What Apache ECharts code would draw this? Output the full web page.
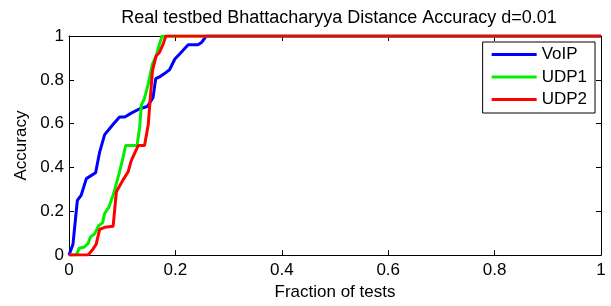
<!DOCTYPE html>
<html><head><meta charset="utf-8">
<script src="https://cdn.jsdelivr.net/npm/echarts@6/dist/echarts.min.js"></script>
<style>html,body{margin:0;padding:0;background:#fff}#c{width:611px;height:306px}</style>
</head><body><div id="c"></div>
<script>
const seriesNames = ['VoIP', 'UDP1', 'UDP2'];
const seriesColors = ['#0000ff', '#00ee00', '#ff0000'];
const xTicks = [0, 0.2, 0.4, 0.6, 0.8, 1];
const yTicks = [0, 0.2, 0.4, 0.6, 0.8, 1];

const voipX = [0, 0.0075, 0.0157, 0.023, 0.0326, 0.050, 0.0576, 0.067, 0.0827, 0.095, 0.105, 0.117, 0.133, 0.147, 0.152, 0.158, 0.163, 0.170, 0.183, 0.189, 0.199, 0.208, 0.224, 0.2425, 0.249, 0.258, 1];
const voipY = [0, 0.05, 0.25, 0.274, 0.349, 0.376, 0.47, 0.55, 0.596, 0.63, 0.63, 0.648, 0.668, 0.678, 0.696, 0.72, 0.805, 0.813, 0.835, 0.846, 0.895, 0.918, 0.96, 0.96, 0.97, 1, 1];

const udp1X = [0, 0.0138, 0.019, 0.029, 0.0357, 0.040, 0.048, 0.056, 0.063, 0.067, 0.075, 0.083, 0.094, 0.101, 0.1065, 0.128, 0.133, 0.136, 0.142, 0.149, 0.157, 0.164, 0.170, 0.175, 1];
const udp1Y = [0, 0, 0.031, 0.037, 0.052, 0.082, 0.097, 0.135, 0.147, 0.19, 0.219, 0.274, 0.371, 0.439, 0.50, 0.50, 0.588, 0.686, 0.716, 0.783, 0.873, 0.91, 0.963, 1, 1];

const udp2X = [0, 0.0357, 0.045, 0.051, 0.0576, 0.067, 0.083, 0.089, 0.094, 0.101, 0.111, 0.117, 0.130, 0.142, 0.149, 0.152, 0.157, 0.164, 0.170, 0.177, 0.182, 1];
const udp2Y = [0, 0, 0.027, 0.049, 0.117, 0.127, 0.132, 0.289, 0.311, 0.341, 0.379, 0.431, 0.50, 0.50, 0.596, 0.693, 0.843, 0.91, 0.925, 0.963, 1, 1];

const zip = (xs, ys) => xs.map((x, i) => [x, ys[i]]);
const allData = [zip(voipX, voipY), zip(udp1X, udp1Y), zip(udp2X, udp2Y)];

const font = 'Liberation Sans, Arial, Helvetica, sans-serif';
const fs = 17;
const fmt = v => (v === 0 || v === 1) ? String(v) : String(Math.round(v * 10) / 10);

const chart = echarts.init(document.getElementById('c'), null, {renderer: 'canvas'});
const axisCommon = {
  type: 'value', min: 0, max: 1, interval: 0.2,
  axisLine: {show: true, onZero: false, lineStyle: {color: '#000', width: 1}},
  axisTick: {show: true, inside: true, length: 5, lineStyle: {color: '#000'}},
  splitLine: {show: false}
};
chart.setOption({
  animation: false,
  backgroundColor: '#fff',
  title: {
    text: 'Real testbed Bhattacharyya Distance Accuracy d=0.01',
    left: 334, textAlign: 'center', top: 4,
    textStyle: {fontFamily: font, fontSize: 18, fontWeight: 'normal', color: '#000'}
  },
  grid: {left: 69, right: 10, top: 36, bottom: 48, containLabel: false},
  legend: {
    data: seriesNames,
    orient: 'vertical',
    right: 16, top: 42,
    backgroundColor: '#fff',
    borderColor: '#000', borderWidth: 1,
    padding: [4, 8, 5, 9],
    itemGap: 5.5,
    itemWidth: 45, itemHeight: 3,
    icon: 'rect',
    textStyle: {fontFamily: font, fontSize: fs, color: '#000'}
  },
  xAxis: [
    Object.assign({}, axisCommon, {
      position: 'bottom',
      name: 'Fraction of tests', nameLocation: 'middle', nameGap: 28,
      nameTextStyle: {fontFamily: font, fontSize: fs, color: '#000'},
      axisLabel: {fontFamily: font, fontSize: fs, color: '#000', margin: 7, formatter: fmt}
    }),
    Object.assign({}, axisCommon, {position: 'top', axisLabel: {show: false}})
  ],
  yAxis: [
    Object.assign({}, axisCommon, {
      position: 'left',
      name: 'Accuracy', nameLocation: 'middle', nameGap: 35,
      nameTextStyle: {fontFamily: font, fontSize: fs, color: '#000'},
      axisLabel: {fontFamily: font, fontSize: fs, color: '#000', margin: 5, formatter: fmt}
    }),
    Object.assign({}, axisCommon, {position: 'right', axisLabel: {show: false}})
  ],
  series: seriesNames.map((n, i) => ({
    name: n, type: 'line', data: allData[i],
    showSymbol: false, symbol: 'none',
    color: seriesColors[i],
    lineStyle: {color: seriesColors[i], width: 3},
    z: 2 + i
  }))
});
</script></body></html>
